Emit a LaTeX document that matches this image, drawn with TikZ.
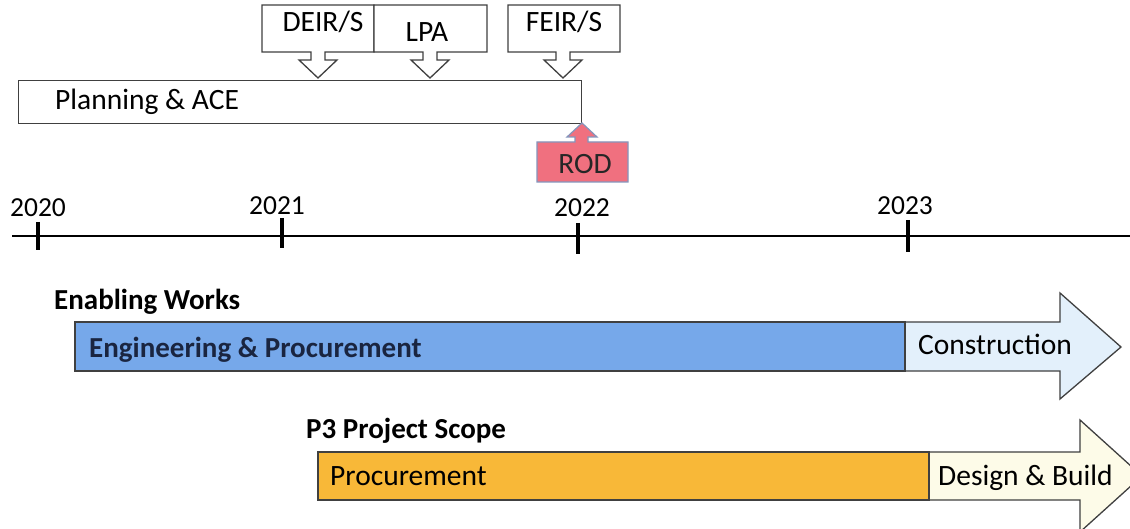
\documentclass[tikz,border=0pt]{standalone}
\usepackage{fontspec}
\setmainfont{Carlito}
\begin{document}
\begin{tikzpicture}[x=1pt,y=-1pt,
  lbl/.style={font=\fontsize{29.5}{34}\selectfont, inner sep=0pt, anchor=base west},
  lblc/.style={font=\fontsize{29.5}{34}\selectfont, inner sep=0pt, anchor=base},
  yearlbl/.style={font=\fontsize{27.5}{32}\selectfont, inner sep=0pt, anchor=base},
  head/.style={font=\fontsize{29}{34}\selectfont\bfseries, inner sep=0pt, anchor=base west},
  outline/.style={draw=black!75, line width=1.3pt},
  tickmark/.style={line width=3.5pt},
]
\definecolor{barblue}{HTML}{76A8EA}
\definecolor{lightblue}{HTML}{E3F0FB}
\definecolor{barorange}{HTML}{F8B838}
\definecolor{lightyellow}{HTML}{FDFBE8}
\definecolor{rodpink}{HTML}{F0707F}
\definecolor{rodborder}{HTML}{8595BC}
\definecolor{navy}{HTML}{1A2540}
\clip (0,0) rectangle (1130,529);
\fill[white] (0,0) rectangle (1130,529);

% Planning box
\node[outline, fill=white, minimum width=563pt, minimum height=43pt, inner sep=0pt] (plan) at (300,102) {};
\node[lbl] (plantxt) at (55,110) {Planning \& ACE};

% Callouts (box + downward arrow)
\draw[outline, fill=white] (262,5) -- (374,5) -- (374,52) -- (325,52) -- (325,60) -- (337,60)
  -- (318,78) -- (299,60) -- (311,60) -- (311,52) -- (262,52) -- cycle;
\draw[outline, fill=white] (374,5) -- (487,5) -- (487,52) -- (437,52) -- (437,60) -- (449,60)
  -- (430,78) -- (411,60) -- (423,60) -- (423,52) -- (374,52) -- cycle;
\draw[outline, fill=white] (508,5) -- (620,5) -- (620,52) -- (570,52) -- (570,60) -- (582,60)
  -- (563,78) -- (544,60) -- (556,60) -- (556,52) -- (508,52) -- cycle;
\node[lblc] (deir) at (323,32) {DEIR/S};
\node[lblc] (lpa) at (427,42) {LPA};
\node[lblc] (feir) at (564,32) {FEIR/S};

% ROD
\draw[draw=rodborder, line width=1.2pt, fill=rodpink] (537,142) -- (575,142) -- (575,137) -- (567,137)
  -- (582,123) -- (597,137) -- (588,137) -- (588,142) -- (628,142) -- (628,182) -- (537,182) -- cycle;
\node[lblc, text=black!85] (rod) at (585,174) {ROD};

% Timeline axis
\coordinate (axL) at (12,236);
\coordinate (axR) at (1130,236);
\draw[line width=2.6pt] (axL) -- (axR);
\draw[tickmark] (38,222) -- (38,250);
\draw[tickmark] (282,218) -- (282,248);
\draw[tickmark] (578,223) -- (578,254);
\draw[tickmark] (908,220) -- (908,252);
\node[yearlbl] (y0) at (38,217) {2020};
\node[yearlbl] (y1) at (277,215) {2021};
\node[yearlbl] (y2) at (582,217) {2022};
\node[yearlbl] (y3) at (905,215) {2023};

% Enabling works
\node[head] (ew) at (54,310) {Enabling Works};
\draw[outline, fill=lightblue] (905,322) -- (1060,322) -- (1060,293) -- (1121,347) -- (1060,399)
  -- (1060,371) -- (905,371) -- cycle;
\draw[outline, fill=barblue] (75,322) rectangle (905,371);
\node[font=\fontsize{29}{34}\selectfont\bfseries, text=navy, inner sep=0pt, anchor=base west] (eng) at (89,357) {Engineering \& Procurement};
\node[lbl] (con) at (918,355) {Construction};

% P3
\node[head] (p3) at (306,438) {P3 Project Scope};
\draw[outline, fill=lightyellow] (929,452) -- (1080,452) -- (1080,420) -- (1142,476) -- (1080,532)
  -- (1080,500) -- (929,500) -- cycle;
\draw[outline, fill=barorange] (318,452) rectangle (929,500);
\node[lbl] (proc) at (330,485) {Procurement};
\node[lbl] (db) at (938,485) {Design \& Build};
\end{tikzpicture}
\end{document}
